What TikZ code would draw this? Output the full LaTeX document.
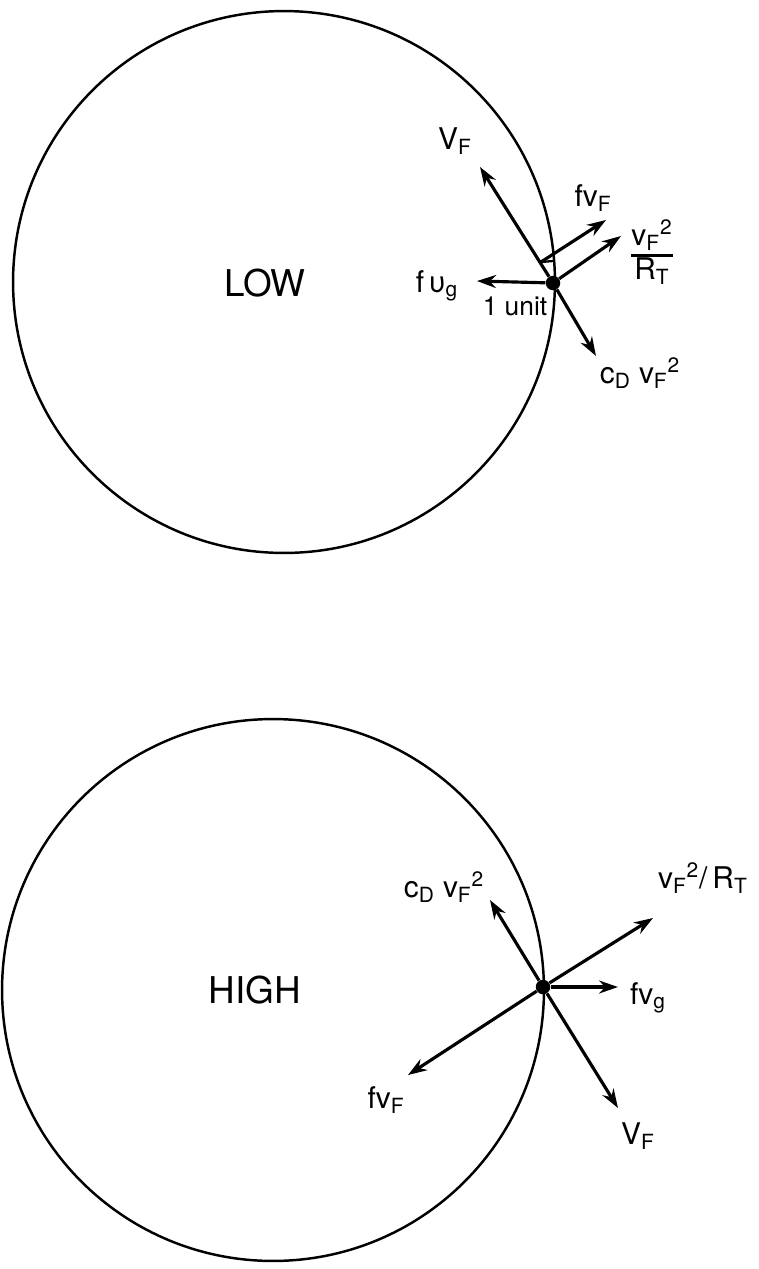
\documentclass[tikz,border=0pt]{standalone}
\usepackage{fontspec}
\setmainfont{TeX Gyre Heros}
\setlength{\arrayrulewidth}{1.4pt}
\usetikzlibrary{arrows.meta}

\begin{document}
\begin{tikzpicture}[x=0.02cm,y=-0.02cm,>={Stealth[length=3.8mm,width=2.6mm]},
  vec/.style={->,line width=1.8pt},
  ring/.style={circle,draw,line width=1.4pt,inner sep=0pt,minimum size=10.84cm},
  dot/.style={circle,fill,inner sep=0pt,minimum size=2.9mm},
  lbl/.style={inner sep=1pt,font=\fontsize{17}{19}\selectfont},
  big/.style={inner sep=1pt,font=\fontsize{21}{24}\selectfont}]
  \useasboundingbox (0,0) rectangle (759,1269);
  % low pressure
  \node[ring] (low) at (284,282) {};
  \node[big] (lowtxt) at (265,283) {LOW};
  \node[dot] (p1) at (553,283) {};
  \coordinate (vf1) at (480,167);
  \coordinate (fb1) at (541,262);
  \coordinate (rt1) at (553,261);
  \coordinate (ff1) at (606,220);
  \coordinate (cr1) at (621,236);
  \coordinate (fg1) at (477,281);
  \coordinate (cd1) at (596,356);
  \draw[vec] (p1) -- (vf1);
  \draw[vec] (fb1) -- (ff1);
  \draw[line width=1.3pt] (fb1) -- (rt1);
  \draw[vec] (p1) -- (cr1);
  \draw[vec] (p1) -- (fg1);
  \draw[vec] (p1) -- (cd1);
  \node[lbl] (vf1l) at (455,141) {V\textsubscript{F}};
  \node[lbl] (ff1l) at (593,198) {fv\textsubscript{F}};
  \node[lbl] (cr1l) at (652,255) {\begin{tabular}{@{}c@{}}v\textsubscript{F}\textsuperscript{2}\\[-1pt]\hline R\textsubscript{T}\end{tabular}};
  \node[lbl] (fg1l) at (437,286) {f\,υ\textsubscript{g}};
  \node[lbl,font=\fontsize{15}{17}\selectfont] (unit1) at (515,306) {1 unit};
  \node[lbl] (cd1l) at (640,373) {c\textsubscript{D} v\textsubscript{F}\textsuperscript{2}};
  % high pressure
  \node[ring] (high) at (273,990) {};
  \node[big] (hightxt) at (255,990) {HIGH};
  \node[dot] (p2) at (543,987) {};
  \coordinate (cd2) at (490,900);
  \coordinate (cr2) at (653,918);
  \coordinate (fg2) at (618,987);
  \coordinate (ff2) at (408,1075);
  \coordinate (vf2) at (618,1108);
  \draw[vec] (p2) -- (cd2);
  \draw[vec] (p2) -- (cr2);
  \draw[vec] (p2) -- (fg2);
  \draw[vec] (p2) -- (ff2);
  \draw[vec] (p2) -- (vf2);
  \node[lbl] (cd2l) at (444,887) {c\textsubscript{D} v\textsubscript{F}\textsuperscript{2}};
  \node[lbl,anchor=west] (cr2l) at (656,878) {v\textsubscript{F}\textsuperscript{2}/\,R\textsubscript{T}};
  \node[lbl] (fg2l) at (648,998) {fv\textsubscript{g}};
  \node[lbl] (ff2l) at (386,1100) {fv\textsubscript{F}};
  \node[lbl] (vf2l) at (638,1136) {V\textsubscript{F}};
\end{tikzpicture}
\end{document}
